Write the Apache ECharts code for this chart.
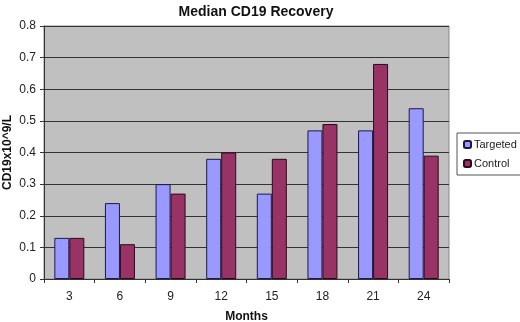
<!DOCTYPE html>
<html>
<head>
<meta charset="utf-8">
<script src="https://cdn.jsdelivr.net/npm/echarts@6/dist/echarts.min.js"></script>
<style>
  html, body { margin: 0; padding: 0; background: #fff; }
  #chart-container { width: 520px; height: 322px; }
</style>
</head>
<body>
<div id="chart-container"></div>
<script>
var months = ['3', '6', '9', '12', '15', '18', '21', '24'];
var targeted = [0.13, 0.24, 0.30, 0.38, 0.27, 0.47, 0.47, 0.54];
var control = [0.13, 0.11, 0.27, 0.40, 0.38, 0.49, 0.68, 0.39];

var myChart = echarts.init(document.getElementById('chart-container'));

var font = 'Liberation Sans, Arial, sans-serif';

var option = {
    animation: false,
    backgroundColor: '#fff',
    textStyle: { fontFamily: font },
    title: {
        text: 'Median CD19 Recovery',
        left: 251,
        textAlign: 'center',
        top: 0,
        textStyle: { fontSize: 14, fontWeight: 'bold', color: '#111', fontFamily: font }
    },
    legend: {
        orient: 'vertical',
        left: 457,
        top: 133,
        itemWidth: 7,
        itemHeight: 7,
        itemGap: 8,
        padding: [6, 8, 6, 6],
        borderColor: '#555',
        borderWidth: 1,
        textStyle: { fontSize: 11, color: '#222', fontFamily: font, padding: [0, 0, 0, -2] },
        data: ['Targeted', 'Control']
    },
    grid: {
        left: 44,
        right: 71,
        top: 26,
        bottom: 43,
        outerBoundsMode: 'none',
        containLabel: false,
        show: true,
        backgroundColor: '#c0c0c0',
        borderColor: '#888',
        borderWidth: 1
    },
    xAxis: {
        type: 'category',
        data: months,
        name: 'Months',
        nameLocation: 'middle',
        nameGap: 32,
        nameMoveOverlap: false,
        nameTextStyle: { fontSize: 12, fontWeight: 'bold', color: '#111' },
        axisLine: { lineStyle: { color: '#333' } },
        axisTick: { show: true, length: 4, lineStyle: { color: '#333' } },
        axisLabel: { fontSize: 12, color: '#222', margin: 12 }
    },
    yAxis: {
        type: 'value',
        min: 0,
        max: 0.8,
        interval: 0.1,
        name: 'CD19x10^9/L',
        nameLocation: 'middle',
        nameGap: 30,
        nameMoveOverlap: false,
        nameTextStyle: { fontSize: 12, fontWeight: 'bold', color: '#111' },
        axisLine: { show: true, lineStyle: { color: '#333' } },
        axisTick: { show: true, length: 4, lineStyle: { color: '#333' } },
        axisLabel: {
            fontSize: 12, color: '#222', margin: 8,
            formatter: function (v) { return v === 0 ? '0' : v.toFixed(1); }
        },
        splitLine: { lineStyle: { color: '#333', width: 1 } }
    },
    series: [
        {
            name: 'Targeted',
            type: 'bar',
            data: targeted,
            barWidth: 15,
            barGap: '0%',
            itemStyle: { color: '#9999ff', borderColor: '#1a1a4a', borderWidth: 1 }
        },
        {
            name: 'Control',
            type: 'bar',
            data: control,
            barWidth: 15,
            itemStyle: { color: '#993366', borderColor: '#2a0a1a', borderWidth: 1 }
        }
    ]
};
myChart.setOption(option);
</script>
</body>
</html>
